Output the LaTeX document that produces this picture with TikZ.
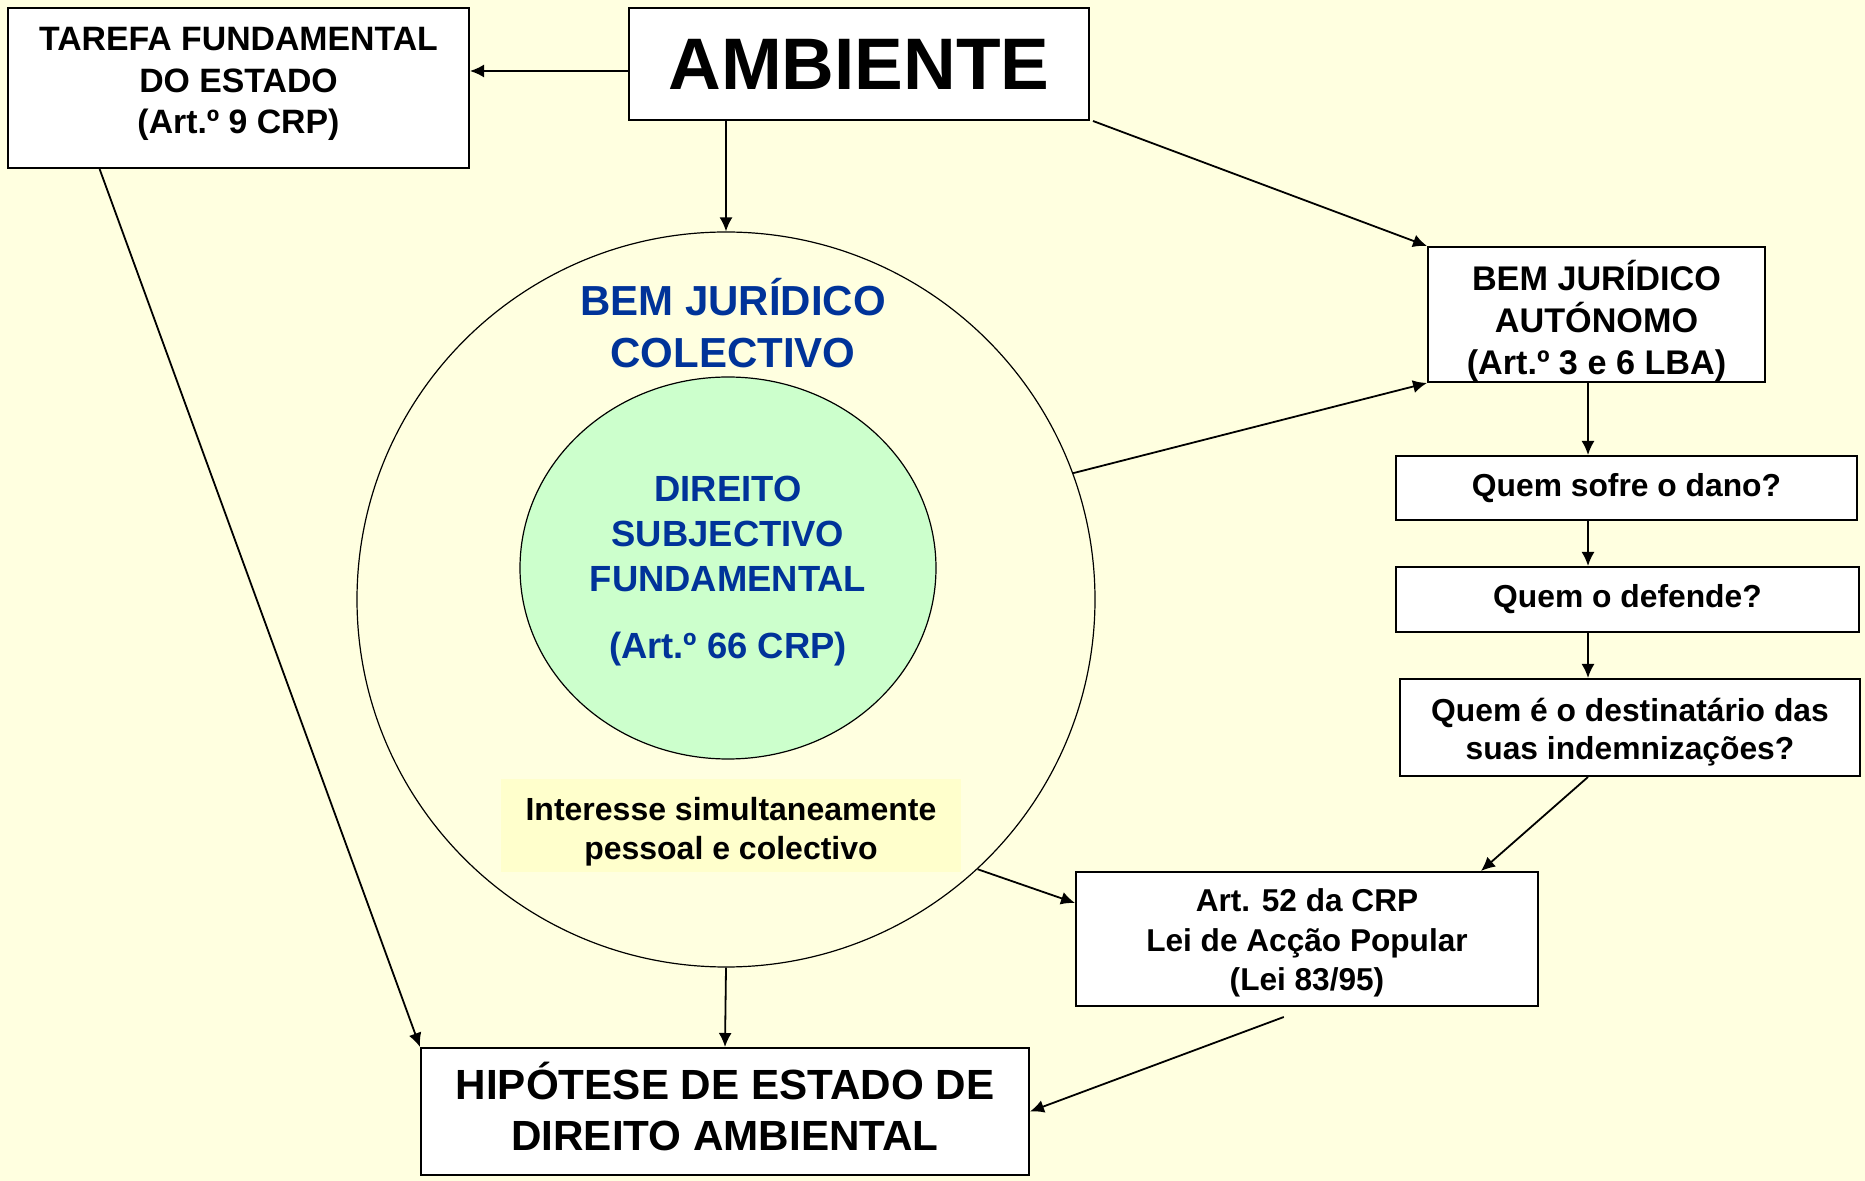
\documentclass[tikz,border=0pt]{standalone}
\usepackage{fontspec}
\setmainfont{Liberation Sans}
\usetikzlibrary{arrows.meta,calc,shapes.geometric}
\definecolor{fundo}{RGB}{255,255,224}
\definecolor{verde}{RGB}{204,255,204}
\definecolor{azul}{RGB}{0,51,153}
\definecolor{creme}{RGB}{255,255,204}
\begin{document}
\begin{tikzpicture}[x=0.5pt,y=-0.5pt,
caixa/.style={draw=black,line width=1pt,fill=white,inner sep=0pt},
texto/.style={align=center,inner sep=0pt},
seta/.style={-{Latex[length=7pt,width=6.5pt]},line width=0.9pt},
circulo/.style={ellipse,draw=black,line width=0.6pt,inner sep=0pt}]
\fill[fundo] (0,0) rectangle (1865,1181);
\useasboundingbox (0,0) rectangle (1865,1181);
\node[caixa,minimum width=230.5pt,minimum height=80pt] (tarefa) at (238.5,88) {};
\node[texto,font=\fontsize{16.9}{20.8}\selectfont\bfseries] (tarefaTxt) at ([yshift=2pt]tarefa.center) {TAREFA FUNDAMENTAL\\DO ESTADO\\(Art.º 9 CRP)};
\node[caixa,minimum width=230pt,minimum height=56pt,font=\fontsize{36.5}{40}\selectfont\bfseries] (ambiente) at (859,64) {AMBIENTE};
\node[circulo,minimum width=369pt,minimum height=367.5pt] (colectivo) at (726,599.5) {};
\node[texto,text=azul,font=\fontsize{21}{26}\selectfont\bfseries] (colectivoTxt) at (733,323) {BEM JURÍDICO\\COLECTIVO};
\node[circulo,fill=verde,minimum width=208pt,minimum height=191pt] (direito) at (728,568) {};
\node[texto,text=azul,font=\fontsize{18.2}{22.5}\selectfont\bfseries] (direitoTxt) at (728,571) {DIREITO\\SUBJECTIVO\\FUNDAMENTAL\\[11pt](Art.º 66 CRP)};
\node[fill=creme,minimum width=230pt,minimum height=46.5pt,inner sep=0pt] (interesse) at (731,825.5) {};
\node[texto,font=\fontsize{16}{19.5}\selectfont\bfseries] (interesseTxt) at ([yshift=-3pt]interesse.center) {Interesse simultaneamente\\pessoal e colectivo};
\node[caixa,minimum width=168.5pt,minimum height=67.5pt] (autonomo) at (1596.5,314.5) {};
\node[texto,font=\fontsize{17.1}{21}\selectfont\bfseries] (autonomoTxt) at ([yshift=-3pt]autonomo.center) {BEM JURÍDICO\\AUTÓNOMO\\(Art.º 3 e 6 LBA)};
\node[caixa,minimum width=230.5pt,minimum height=32pt,font=\fontsize{15.9}{19}\selectfont\bfseries] (sofre) at (1626.5,488) {Quem sofre o dano?};
\node[caixa,minimum width=231.5pt,minimum height=32.5pt,font=\fontsize{15.9}{19}\selectfont\bfseries] (defende) at (1627.5,599.5) {Quem o defende?};
\node[caixa,minimum width=230pt,minimum height=48.5pt] (destinatario) at (1630,727.5) {};
\node[texto,font=\fontsize{15.9}{19}\selectfont\bfseries] (destinatarioTxt) at ([yshift=-2.4pt]destinatario.center) {Quem é o destinatário das\\suas indemnizações?};
\node[caixa,minimum width=231pt,minimum height=67pt] (art52) at (1307,939) {};
\node[texto,font=\fontsize{15.8}{19.6}\selectfont\bfseries] (art52Txt) at ([yshift=-2pt]art52.center) {Art. 52 da CRP\\Lei de Acção Popular\\(Lei 83/95)};
\node[caixa,minimum width=304pt,minimum height=63.5pt] (hipotese) at (725,1111.5) {};
\node[texto,font=\fontsize{21.1}{25.6}\selectfont\bfseries] (hipoteseTxt) at ([yshift=2.4pt]hipotese.center) {HIPÓTESE DE ESTADO DE\\DIREITO AMBIENTAL};
\coordinate (eixo) at (1588,0);
\draw[seta] ([yshift=-3.5pt]ambiente.west) -- ([yshift=-3.5pt]ambiente.west -| tarefa.east);
\draw[seta] (ambiente.south -| colectivo.north) -- (colectivo.north);
\draw[seta] ([xshift=1.5pt]ambiente.south east) -- (autonomo.north west);
\draw[seta] (colectivo.20) -- (autonomo.south west);
\draw[seta] ($(tarefa.south west)!0.2!(tarefa.south east)$) -- (hipotese.north west);
\draw[seta] (colectivo.south) -- (hipotese.north);
\draw[seta] (autonomo.south -| eixo) -- (sofre.north -| eixo);
\draw[seta] (sofre.south -| eixo) -- (defende.north -| eixo);
\draw[seta] (defende.south -| eixo) -- (destinatario.north -| eixo);
\draw[seta] (destinatario.south -| eixo) -- ($(art52.north west)!0.875!(art52.north east)$);
\draw[seta] (colectivo.-47) -- ([yshift=18pt]art52.west);
\draw[seta] ([yshift=-5pt]$(art52.south west)!0.45!(art52.south east)$) -- (hipotese.east);
\end{tikzpicture}
\end{document}
